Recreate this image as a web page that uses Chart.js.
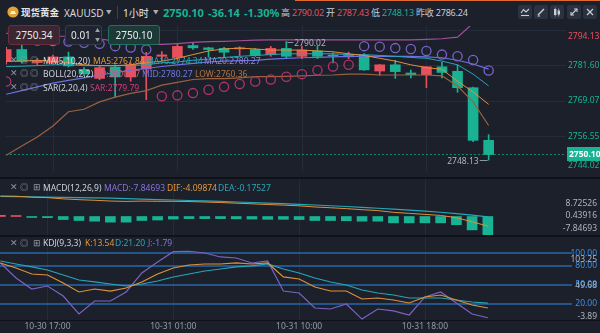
<!DOCTYPE html>
<html lang="zh-CN">
<head>
<meta charset="UTF-8">
<title>现货黄金 XAUUSD 1小时</title>
<script src="https://cdn.jsdelivr.net/npm/chart.js@4.4.1/dist/chart.umd.min.js"></script>
<style>
  html, body { margin: 0; padding: 0; }
  body {
    width: 600px; height: 333px; position: relative; overflow: hidden;
    background: #1b202b;
    font-family: "Noto Sans", "Noto Sans CJK SC", sans-serif;
    color: #d5d8de;
  }
  canvas { position: absolute; left: 0; }
  .t { position: absolute; white-space: nowrap; line-height: 1; }
  .hd { font-size: 10px; top: 7.5px; color: #e4e6ea; }
  .st { font-size: 9px; top: 8px; color: #c9ccd3; letter-spacing: -0.2px; }
  .lg { font-size: 8.5px; color: #cfd2d8; }
  .ic { font-size: 8.5px; color: #8e95a1; }
  .sep { position: absolute; left: 0; width: 600px; background: #0f1218; }
  .box { position: absolute; top: 25px; height: 20px; border-radius: 3px; box-sizing: border-box;
         font-size: 10px; line-height: 18px; color: #e8e8ea; }
  .btn { position: absolute; top: 5px; width: 14px; height: 14px; border-radius: 2px; background: #2a313f; }
  .btn svg { display: block; }
</style>
</head>
<body>

<!-- 顶部行情栏 -->
<div style="position:absolute;left:295px;top:0;width:305px;height:1px;background:#e06a2e"></div>
<svg style="position:absolute;left:7px;top:6px" width="12" height="12" viewBox="0 0 12 12">
  <circle cx="6" cy="6" r="5.6" fill="#e3a23a"/>
  <path d="M3 8 L4.5 5 L7.5 5 L9 8 Z" fill="#fff3c8"/>
</svg>
<div class="t hd" style="left:21px;font-size:9.5px;font-weight:bold">现货黄金</div>
<div class="t hd" style="left:64px;color:#d6d9df">XAUUSD</div>
<div class="t" style="left:106px;top:10px;font-size:5.5px;color:#aab0ba">▼</div>
<div style="position:absolute;left:117px;top:6px;width:1px;height:13px;background:#3a4150"></div>
<div class="t hd" style="left:123px">1小时</div>
<div class="t" style="left:153px;top:10px;font-size:5.5px;color:#aab0ba">▼</div>
<div class="t" style="left:163px;top:7px;font-size:11px;font-weight:bold;color:#19b394">2750.10</div>
<div class="t" style="left:208px;top:7px;font-size:11px;font-weight:bold;color:#19b394">-36.14</div>
<div class="t" style="left:244px;top:7px;font-size:11px;font-weight:bold;color:#19b394">-1.30%</div>
<div class="t st" style="left:281px">高 <span style="color:#e2505c">2790.02</span> 开 <span style="color:#e2505c">2787.43</span> 低 <span style="color:#19b394">2748.13</span> 昨收 2786.24</div>

<div class="btn" style="left:518px"><svg width="14" height="14" viewBox="0 0 14 14" fill="none" stroke="#c9cdd6" stroke-width="1.1"><path d="M3 8 L5.5 4.5 L8 7 L11 4"/><path d="M3 10.5 H11"/></svg></div>
<div class="btn" style="left:534px"><svg width="14" height="14" viewBox="0 0 14 14" fill="none" stroke="#c9cdd6" stroke-width="1.4"><path d="M4 10 L10 4"/><path d="M3.5 11 H6" stroke-width="1"/></svg></div>
<div class="btn" style="left:550px"><svg width="14" height="14" viewBox="0 0 14 14" fill="#c9cdd6"><rect x="4" y="4" width="2.4" height="6"/><rect x="7.6" y="5.5" width="2.4" height="4"/><rect x="4.9" y="2.5" width="0.6" height="9"/><rect x="8.5" y="3.5" width="0.6" height="8"/></svg></div>
<div class="btn" style="left:567px"><svg width="14" height="14" viewBox="0 0 14 14" fill="none" stroke="#c9cdd6" stroke-width="1.1"><path d="M4 10 L10 4"/><path d="M7 4 H10 V7"/><path d="M4 7 V10 H7"/></svg></div>
<div class="btn" style="left:583px"><svg width="14" height="14" viewBox="0 0 14 14" fill="none" stroke="#c9cdd6" stroke-width="1.2"><path d="M4 4 L10 10 M10 4 L4 10"/></svg></div>

<!-- 三个窗格 -->
<canvas id="mainChart" width="600" height="157" style="top:20px"></canvas>
<canvas id="macdChart" width="600" height="56" style="top:179px"></canvas>
<canvas id="kdjChart" width="600" height="97" style="top:236px"></canvas>

<div class="sep" style="top:177px;height:2px"></div>
<div class="sep" style="top:235px;height:1.5px"></div>
<div class="sep" style="top:319.5px;height:1.5px"></div>

<!-- 快捷下单 -->
<div class="box" style="left:8px;width:52px;background:#3b2631;border:1px solid #6b2f3c;text-align:center">2750.34</div>
<div class="box" style="left:65px;width:37px;background:#1f2430;border:1px solid #363d4a;padding-left:5px">0.01</div>
<div class="t" style="left:95px;top:28px;font-size:5px;color:#9aa0aa">▲</div>
<div class="t" style="left:95px;top:37px;font-size:5px;color:#9aa0aa">▼</div>
<div class="box" style="left:108px;width:52px;background:#1c3a38;border:1px solid #23705f;text-align:center">2750.10</div>

<!-- 主图指标图例 -->
<div class="t ic" style="left:10px;top:56px">✕</div><div class="t ic" style="left:20px;top:56px">◎</div><div class="t ic" style="left:30px;top:56px">◎</div>
<div class="t lg" style="left:43px;top:56.5px">MA(5,10,20)</div>
<div class="t lg" style="left:93px;top:56.5px;color:#e3963e">MA5:2767.84</div>
<div class="t lg" style="left:146px;top:56.5px;color:#2aa7b7">MA10:2774.34</div>
<div class="t lg" style="left:204px;top:56.5px;color:#8f86dc">MA20:2780.27</div>

<div class="t ic" style="left:10px;top:69px">✕</div><div class="t ic" style="left:20px;top:69px">◎</div><div class="t ic" style="left:30px;top:69px">◎</div>
<div class="t lg" style="left:43px;top:69.5px">BOLL(20,2,2)</div>
<div class="t lg" style="left:95px;top:69.5px;color:#cf5b7d">UP:2800.17</div>
<div class="t lg" style="left:142px;top:69.5px;color:#6f78e2">MID:2780.27</div>
<div class="t lg" style="left:195px;top:69.5px;color:#b57440">LOW:2760.36</div>

<div class="t ic" style="left:10px;top:83px">✕</div><div class="t ic" style="left:20px;top:83px">◎</div><div class="t ic" style="left:30px;top:83px">◎</div>
<div class="t lg" style="left:43px;top:83.5px">SAR(2,20,4)</div>
<div class="t lg" style="left:90px;top:83.5px;color:#d33d7c">SAR:2779.79</div>

<!-- 副图图例 -->
<div class="t ic" style="left:10px;top:183px">✕</div><div class="t ic" style="left:20px;top:183px">◎</div><div class="t ic" style="left:33px;top:183px">⊞</div>
<div class="t lg" style="left:43px;top:183.5px">MACD(12,26,9)</div>
<div class="t lg" style="left:104px;top:183.5px;color:#8a72d6">MACD:-7.84693</div>
<div class="t lg" style="left:167px;top:183.5px;color:#e3963e">DIF:-4.09874</div>
<div class="t lg" style="left:218px;top:183.5px;color:#2aa7b7">DEA:-0.17527</div>

<div class="t ic" style="left:10px;top:239px">✕</div><div class="t ic" style="left:20px;top:239px">◎</div><div class="t ic" style="left:33px;top:239px">⊞</div>
<div class="t lg" style="left:43px;top:239px">KDJ(9,3,3)</div>
<div class="t lg" style="left:85px;top:239px;color:#e3963e">K:13.54</div>
<div class="t lg" style="left:115px;top:239px;color:#2aa7b7">D:21.20</div>
<div class="t lg" style="left:148px;top:239px;color:#8a72d6">J:-1.79</div>

<script>
// ---- 行情数据：1小时K线，序号 -1 ~ 30（第一根只露出一半）----
const firstIdx = -1;
const opens  = [2783.0, 2787.2, 2782.6, 2782.4, 2784.6, 2780.2, 2777.0, 2781.0, 2777.5, 2780.3, 2784.8, 2784.5, 2788.6, 2787.8, 2787.6, 2787.43,
                2787.2, 2785.4, 2787.6, 2784.8, 2786.7, 2785.2, 2784.6, 2785.1, 2779.6, 2781.8, 2778.9, 2778.3, 2781.1, 2779.5, 2773.7, 2755.1];
const highs  = [2788.0, 2788.9, 2784.0, 2785.2, 2786.3, 2780.8, 2781.3, 2781.8, 2782.5, 2786.2, 2786.5, 2789.4, 2789.7, 2788.0, 2788.0, 2788.2,
                2787.6, 2788.3, 2790.02, 2788.3, 2788.3, 2786.0, 2786.3, 2785.8, 2781.9, 2783.4, 2779.9, 2781.2, 2782.7, 2781.8, 2773.9, 2757.1];
const lows   = [2782.0, 2782.4, 2781.8, 2782.0, 2781.0, 2778.0, 2776.5, 2770.4, 2776.0, 2769.5, 2783.3, 2783.4, 2787.2, 2784.5, 2784.5, 2785.0,
                2784.8, 2784.8, 2784.0, 2784.0, 2784.0, 2782.5, 2784.0, 2779.8, 2778.1, 2777.0, 2777.2, 2773.7, 2777.2, 2772.1, 2754.6, 2748.13];
const closes = [2787.2, 2783.0, 2783.2, 2784.6, 2781.4, 2778.6, 2780.8, 2777.5, 2781.8, 2784.8, 2785.3, 2788.3, 2787.8, 2787.2, 2786.24, 2787.8,
                2785.1, 2787.6, 2784.8, 2787.0, 2784.8, 2784.9, 2785.1, 2780.0, 2781.8, 2779.4, 2778.3, 2781.1, 2779.1, 2773.7, 2755.1, 2750.10];

// 主图指标
const ma5  = [2783.1, 2783.1, 2783.4, 2783.1, 2782.5, 2781.8, 2781.5, 2781.5, 2781.8, 2782.5, 2783.1, 2784.1, 2785.4, 2786.7, 2787.4, 2787.7,
              2787.4, 2787.0, 2787.0, 2787.0, 2786.7, 2786.4, 2785.7, 2785.1, 2784.1, 2783.1, 2781.8, 2780.8, 2780.2, 2776.0, 2772.2, 2767.84];
const ma10 = [2781.2, 2781.3, 2781.5, 2781.8, 2781.8, 2781.5, 2781.5, 2781.5, 2781.5, 2781.8, 2782.5, 2782.8, 2783.4, 2783.8, 2784.4, 2784.8,
              2785.1, 2785.4, 2785.7, 2785.7, 2785.7, 2785.7, 2785.4, 2785.4, 2785.1, 2784.8, 2784.4, 2784.1, 2783.1, 2781.8, 2778.5, 2774.34];
const ma20 = [2771.4, 2772.7, 2774.0, 2775.3, 2776.3, 2777.2, 2778.2, 2779.0, 2779.9, 2780.5, 2781.2, 2781.8, 2782.3, 2782.8, 2783.1, 2783.3,
              2783.4, 2783.8, 2784.1, 2784.3, 2784.4, 2784.6, 2784.8, 2784.8, 2784.8, 2784.8, 2784.8, 2784.6, 2784.3, 2783.4, 2782.1, 2780.27];
const bollUp  = [2792.9, 2792.6, 2792.3, 2791.9, 2791.9, 2791.6, 2791.0, 2790.1, 2789.5, 2789.0, 2789.0, 2789.3, 2789.7, 2790.0, 2790.1, 2790.3,
                 2790.5, 2790.6, 2790.6, 2790.6, 2790.6, 2790.6, 2790.6, 2790.6, 2790.6, 2790.6, 2790.6, 2790.8, 2791.0, 2791.6, 2796.5, 2800.17];
const bollLow = [2749.8, 2753.1, 2756.3, 2760.2, 2765.2, 2766.1, 2768.7, 2770.4, 2771.7, 2772.7, 2774.6, 2775.6, 2776.6, 2776.9, 2776.9, 2777.2,
                 2777.6, 2777.6, 2777.7, 2777.9, 2778.1, 2778.2, 2778.5, 2778.5, 2778.2, 2778.2, 2778.2, 2778.2, 2777.9, 2774.3, 2768.7, 2760.36];
const sar = [2775.9, 2790.6, 2790.4, 2790.2, 2790.0, 2789.6, 2789.2, 2788.4, 2787.9, 2787.2, 2770.7, 2771.0, 2771.8, 2773.0, 2774.0, 2775.0,
             2775.9, 2776.6, 2777.6, 2778.5, 2779.9, 2781.2, 2781.8, 2788.4, 2788.2, 2787.7, 2787.4, 2786.7, 2785.4, 2784.8, 2783.5, 2779.79];

// MACD(12,26,9)
const macdHist = [0.5, 0.3, -0.4, -0.5, -1.3, -1.7, -2.0, -2.4, -2.4, -1.7, -1.5, -1.1, -0.9, -0.9, -0.9, -1.0,
                  -1.1, -1.2, -1.2, -1.3, -1.7, -1.7, -1.8, -2.0, -2.0, -2.7, -2.7, -2.7, -2.7, -3.5, -5.7, -7.84693];
const dif = [8.72526, 8.63, 8.20, 8.03, 7.50, 7.17, 6.90, 6.58, 6.42, 6.57, 6.47, 6.47, 6.37, 6.17, 5.95, 5.68,
             5.40, 5.10, 4.85, 4.55, 4.05, 3.73, 3.35, 2.90, 2.52, 1.77, 1.35, 0.90, 0.45, -0.50, -2.25, -4.09874];
const dea = [8.52, 8.48, 8.40, 8.28, 8.15, 8.02, 7.90, 7.78, 7.62, 7.42, 7.22, 7.02, 6.82, 6.62, 6.40, 6.18,
             5.95, 5.70, 5.45, 5.20, 4.90, 4.58, 4.25, 3.90, 3.52, 3.12, 2.70, 2.25, 1.80, 1.25, 0.60, -0.17527];

// KDJ(9,3,3)
const kLine = [84.7, 76.8, 67.3, 65.7, 53.0, 38.9, 43.6, 40.4, 45.2, 54.7, 67.3, 76.8, 81.5, 83.1, 83.1, 84.7,
               83.1, 84.7, 62.6, 59.4, 46.8, 40.4, 40.4, 27.8, 29.4, 26.2, 21.5, 31.0, 34.1, 26.2, 18.3, 13.54];
const dLine = [87.8, 83.1, 78.4, 73.6, 65.7, 57.8, 54.7, 51.5, 48.3, 51.5, 56.2, 62.6, 67.3, 72.0, 75.2, 78.4,
               80.0, 83.1, 75.2, 68.9, 61.0, 54.7, 49.9, 42.0, 37.3, 34.1, 29.4, 29.4, 29.4, 26.2, 23.1, 21.20];
const jLine = [84.7, 61.0, 43.6, 48.3, 32.5, 4.1, 24.6, 24.6, 38.9, 68.9, 86.3, 102.5, 103.25, 100.5, 94.2, 92.6,
               84.7, 87.8, 40.4, 37.3, 13.6, 12.0, 19.9, -3.89, 12.0, 8.9, 2.5, 31.0, 38.9, 21.5, 4.1, -1.79];

// 坐标轴
const timeLabels = ['10-30 17:00', '10-31 01:00', '10-31 10:00', '10-31 18:00'];
const timeIdx = [2, 10, 18, 26];
const priceTicks = [2794.13, 2781.60, 2769.07, 2756.55, 2744.02];
const prevClose = 2786.24;
const macdTicks = [8.72526, 0.43916, -7.84693];
const kdjLevels = [100, 80, 50, 20];
const kdjTicks = [103.25, 49.68, -3.89];

// ---- 颜色 ----
const UP = '#e8505b';
const DOWN = '#19b394';
const GRID = '#252c39';
const C_MA5 = '#e0913a', C_MA10 = '#26a6b8', C_MID = '#6c71e2', C_UP = '#9e509c', C_LOW = '#9a6242';
const SAR_UP = '#b3336f', SAR_DOWN = '#7b63c8';
const C_J = '#7d62c4';
const LABEL = '#aeb3bd';
const FONT = '8.5px "Noto Sans"';

const X_MIN = -1.02, X_MAX = 34.97;
const pts = arr => arr.map((v, k) => ({ x: k + firstIdx, y: v }));
const candleColor = ctx => closes[ctx.dataIndex] >= opens[ctx.dataIndex] ? UP : DOWN;

function baseOptions(yMin, yMax, padBottom) {
  return {
    responsive: false,
    animation: false,
    events: [],
    devicePixelRatio: 1,
    layout: { padding: { left: 0, right: 34, top: 0, bottom: padBottom } },
    plugins: { legend: { display: false }, tooltip: { enabled: false } },
    scales: {
      x: { type: 'linear', min: X_MIN, max: X_MAX, offset: false, display: false },
      y: { type: 'linear', min: yMin, max: yMax, display: false }
    }
  };
}

function drawVGrid(chart) {
  const { ctx, chartArea: a, scales: { x } } = chart;
  ctx.save();
  ctx.strokeStyle = GRID;
  ctx.lineWidth = 1;
  timeIdx.forEach(i => {
    const px = Math.round(x.getPixelForValue(i)) + 0.5;
    ctx.beginPath(); ctx.moveTo(px, a.top); ctx.lineTo(px, a.bottom); ctx.stroke();
  });
  ctx.restore();
}

const lineDs = (data, color, width) => ({
  type: 'line', data: pts(data), borderColor: color, borderWidth: width || 1,
  pointRadius: 0, tension: 0, order: 1
});

// ---- 主图：K线 + MA + BOLL + SAR ----
const mainDecor = {
  id: 'mainDecor',
  beforeDatasetsDraw(chart) {
    drawVGrid(chart);
    const { ctx, chartArea: a, scales: { y } } = chart;
    ctx.save();
    ctx.strokeStyle = GRID;
    priceTicks.forEach(v => {
      const py = Math.round(y.getPixelForValue(v)) + 0.5;
      if (py < a.top || py > a.bottom) return;
      ctx.beginPath(); ctx.moveTo(a.left, py); ctx.lineTo(a.right, py); ctx.stroke();
    });
    // 现价虚线
    const last = closes[closes.length - 1];
    const py = Math.round(y.getPixelForValue(last)) + 0.5;
    ctx.strokeStyle = '#1a8a78';
    ctx.setLineDash([2, 2]);
    ctx.beginPath(); ctx.moveTo(a.left, py); ctx.lineTo(a.right, py); ctx.stroke();
    ctx.restore();
  },
  afterDraw(chart) {
    const { ctx, chartArea: a, scales: { x, y } } = chart;
    ctx.save();
    ctx.font = FONT;
    ctx.textBaseline = 'middle';

    // 最高 / 最低标注
    const hiK = highs.indexOf(Math.max(...highs));
    const loK = lows.indexOf(Math.min(...lows));
    const hx = x.getPixelForValue(hiK + firstIdx), hy = Math.round(y.getPixelForValue(highs[hiK])) + 0.5;
    const lx = x.getPixelForValue(loK + firstIdx), ly = Math.round(y.getPixelForValue(lows[loK])) + 0.5;
    ctx.strokeStyle = '#8d93a0';
    ctx.lineWidth = 1;
    ctx.beginPath(); ctx.moveTo(hx + 1, hy); ctx.lineTo(hx + 7, hy); ctx.stroke();
    ctx.beginPath(); ctx.moveTo(lx - 1, ly); ctx.lineTo(lx - 9, ly); ctx.stroke();
    ctx.fillStyle = LABEL;
    ctx.textAlign = 'left';
    ctx.fillText(highs[hiK].toFixed(2), hx + 8, hy + 1);
    ctx.textAlign = 'right';
    ctx.fillText(lows[loK].toFixed(2), lx - 10, ly + 1);

    // 右侧价格刻度
    ctx.textAlign = 'left';
    priceTicks.forEach(v => {
      let py = y.getPixelForValue(v);
      py = Math.min(Math.max(py, a.top + 11), a.bottom - 6);
      ctx.fillStyle = v > prevClose ? UP : DOWN;
      ctx.fillText(v.toFixed(2), a.right + 2, py);
    });

    // 现价标签
    const last = closes[closes.length - 1];
    const py = Math.round(y.getPixelForValue(last));
    ctx.fillStyle = DOWN;
    ctx.fillRect(a.right + 1, py - 7, 34, 14);
    ctx.fillStyle = '#ffffff';
    ctx.font = 'bold 8.5px "Noto Sans"';
    ctx.fillText(last.toFixed(2), a.right + 3, py + 0.5);
    ctx.restore();
  }
};

new Chart(document.getElementById('mainChart'), {
  type: 'bar',
  data: {
    datasets: [
      { type: 'line', data: pts(sar), showLine: false, pointRadius: 4.6, pointBorderWidth: 1.3,
        pointBackgroundColor: 'rgba(0,0,0,0)',
        pointBorderColor: ctx => sar[ctx.dataIndex] < closes[ctx.dataIndex] ? SAR_UP : SAR_DOWN, order: 0 },
      lineDs(ma5, C_MA5),
      lineDs(ma10, C_MA10),
      lineDs(ma20, C_MID, 1.2),
      lineDs(bollUp, C_UP, 1.2),
      lineDs(bollLow, C_LOW, 1.2),
      { data: opens.map((o, k) => ({ x: k + firstIdx, y: [o, closes[k]] })), backgroundColor: candleColor,
        barThickness: 10, minBarLength: 1, grouped: false, borderWidth: 0, order: 2 },
      { data: highs.map((h, k) => ({ x: k + firstIdx, y: [lows[k], h] })), backgroundColor: candleColor,
        barThickness: 1, grouped: false, borderWidth: 0, order: 3 }
    ]
  },
  options: baseOptions(2744.23, 2795.55, 0),
  plugins: [mainDecor]
});

// ---- MACD ----
const macdDecor = {
  id: 'macdDecor',
  beforeDatasetsDraw(chart) { drawVGrid(chart); },
  afterDraw(chart) {
    const { ctx, chartArea: a, scales: { y } } = chart;
    ctx.save();
    ctx.font = FONT;
    ctx.textBaseline = 'middle';
    ctx.textAlign = 'right';
    ctx.fillStyle = LABEL;
    macdTicks.forEach(v => {
      let py = y.getPixelForValue(v);
      py = Math.min(Math.max(py, a.top + 25), a.bottom - 6);
      ctx.fillText(v.toFixed(5), 597, py);
    });
    ctx.restore();
  }
};

new Chart(document.getElementById('macdChart'), {
  type: 'bar',
  data: {
    datasets: [
      lineDs(dif, C_MA5),
      lineDs(dea, C_MA10, 1.2),
      { data: pts(macdHist), backgroundColor: ctx => macdHist[ctx.dataIndex] >= 0 ? UP : DOWN,
        barThickness: 10, minBarLength: 1, grouped: false, borderWidth: 0, order: 2 }
    ]
  },
  options: baseOptions(-7.87, 15.96, 0),
  plugins: [macdDecor]
});

// ---- KDJ ----
const kdjDecor = {
  id: 'kdjDecor',
  beforeDatasetsDraw(chart) {
    drawVGrid(chart);
    const { ctx, chartArea: a, scales: { y } } = chart;
    ctx.save();
    ctx.strokeStyle = '#2767a8';
    ctx.lineWidth = 1.5;
    kdjLevels.forEach(v => {
      const py = Math.round(y.getPixelForValue(v));
      ctx.beginPath(); ctx.moveTo(a.left, py); ctx.lineTo(a.right + 6, py); ctx.stroke();
    });
    ctx.restore();
  },
  afterDraw(chart) {
    const { ctx, chartArea: a, scales: { x, y } } = chart;
    ctx.save();
    ctx.font = FONT;
    ctx.textBaseline = 'middle';
    ctx.textAlign = 'right';
    ctx.fillStyle = '#3d8fe2';
    kdjLevels.forEach(v => ctx.fillText(v.toFixed(2), 597, y.getPixelForValue(v)));
    ctx.fillStyle = LABEL;
    const topLevel = y.getPixelForValue(kdjLevels[0]);
    kdjTicks.forEach((v, k) => {
      let py = y.getPixelForValue(v);
      if (k === 0) py = Math.max(py, topLevel + 6);   // 避开 100.00
      py = Math.min(Math.max(py, a.top + 6), a.bottom - 3);
      ctx.fillText(v.toFixed(2), 597, py);
    });

    // 时间轴
    ctx.textAlign = 'center';
    ctx.fillStyle = '#959ba6';
    timeIdx.forEach((i, k) => ctx.fillText(timeLabels[k], x.getPixelForValue(i), a.bottom + 7));
    ctx.restore();
  }
};

new Chart(document.getElementById('kdjChart'), {
  type: 'line',
  data: {
    datasets: [
      lineDs(kLine, C_MA5, 1.2),
      lineDs(dLine, C_MA10, 1.2),
      lineDs(jLine, C_J, 1.2)
    ]
  },
  options: baseOptions(-5.37, 127.3, 13),
  plugins: [kdjDecor]
});
</script>
</body>
</html>
